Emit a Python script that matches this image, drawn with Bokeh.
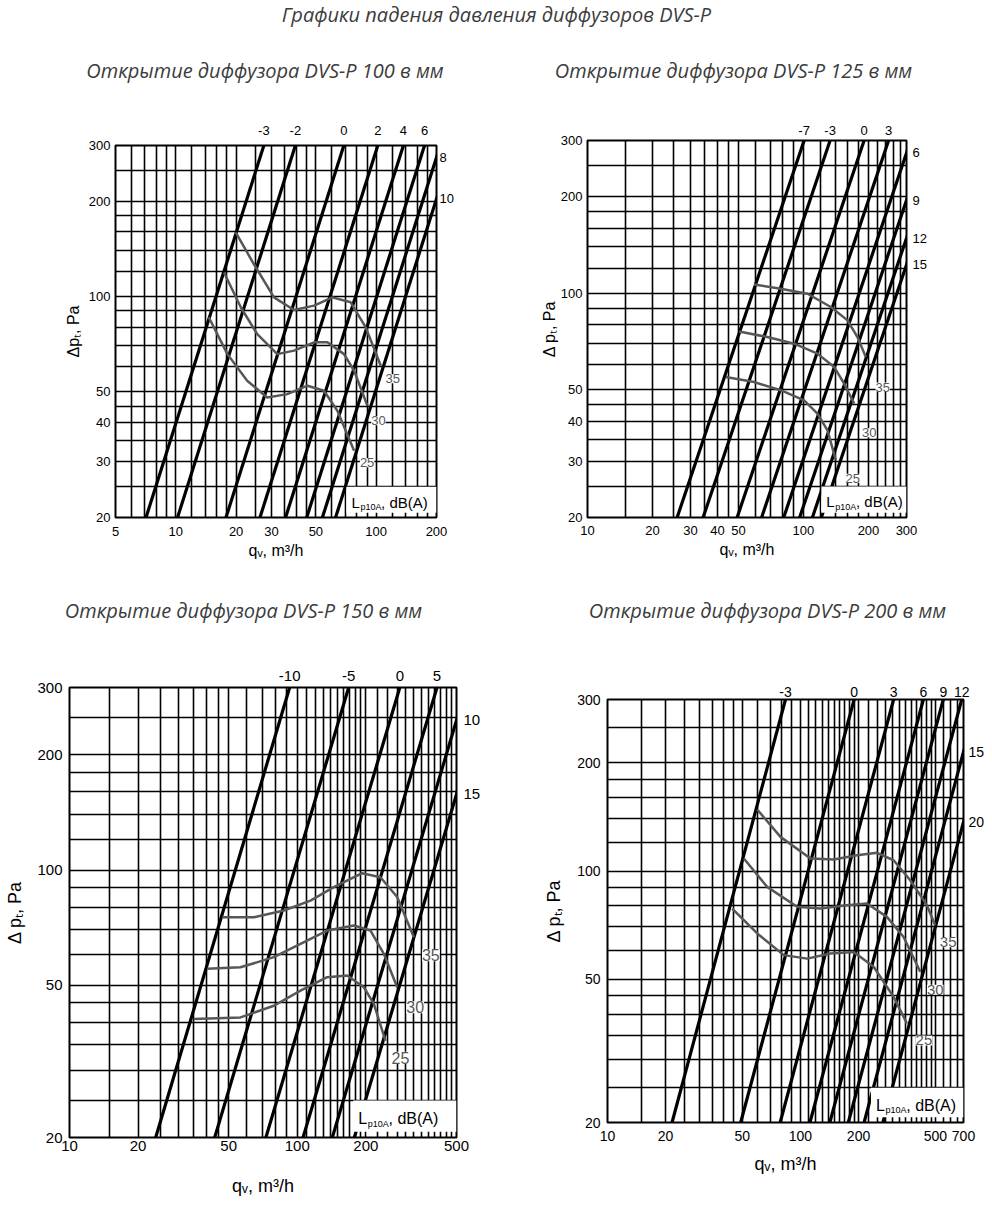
import math
from bokeh.plotting import figure
from bokeh.models import Label, FixedTicker, Range1d, PrintfTickFormatter, LogAxis, Spacer
from bokeh.layouts import column, row
from bokeh.embed import file_html
from bokeh.resources import INLINE

# ---------------- data ----------------
MAIN_TITLE = "Графики падения давления диффузоров DVS-P"
Y_RANGE = (20, 300)
Y_GRID = [20, 25, 30, 35, 40, 45, 50, 60, 70, 80, 90, 100, 120, 140, 160, 180, 200, 250, 300]
BOX_TEXT = ["L", "p10A", ", dB(A)"]

# DVS-P 100
P1_TITLE = "Открытие диффузора DVS-P 100 в мм"
P1_X_RANGE = (5, 200)
P1_X_TICKS = [5, 10, 20, 30, 50, 100, 200]
P1_Y_TICKS = [20, 30, 40, 50, 100, 200, 300]
P1_X_GRID = [5, 6, 7, 8, 9, 10, 12, 14, 16, 18, 20, 25, 30, 35, 40, 45, 50, 60, 70, 80, 90,
             100, 120, 140, 160, 180, 200]
P1_OPENINGS = ["-3", "-2", "0", "2", "4", "6", "8", "10"]
P1_Q_AT_20PA = [7.1, 10.2, 17.8, 26.3, 35.3, 45.0, 53.9, 62.7]
P1_LEVELS = ["35", "30", "25"]
P1_Q35 = [19.9, 24.5, 30.9, 38.9, 49.0, 60.4, 74.6, 88.7, 105.4]
P1_P35 = [159.5, 126.6, 99.3, 90.6, 93.5, 99.3, 95.8, 79.8, 60.4]
P1_Q30 = [17.4, 21.1, 25.5, 32.1, 38.9, 49.0, 57.1, 69.1, 77.6, 90.4]
P1_P30 = [119.0, 92.4, 76.0, 65.7, 67.4, 71.6, 71.6, 65.7, 58.2, 45.1]
P1_Q25 = [14.6, 18.1, 22.7, 28.6, 36.0, 45.4, 54.9, 64.0, 77.6]
P1_P25 = [85.9, 65.7, 54.1, 47.9, 49.1, 52.2, 50.3, 43.5, 32.5]
P1_BOX_Q = (71, 200)

# DVS-P 125
P2_TITLE = "Открытие диффузора DVS-P 125 в мм"
P2_X_RANGE = (10, 300)
P2_X_TICKS = [10, 20, 30, 40, 50, 100, 200, 300]
P2_Y_TICKS = [20, 30, 40, 50, 100, 200, 300]
P2_X_GRID = [10, 15, 20, 25, 30, 35, 40, 45, 50, 60, 70, 80, 90, 100, 120, 140, 160, 180,
             200, 220, 240, 260, 280, 300]
P2_OPENINGS = ["-7", "-3", "0", "3", "6", "9", "12", "15"]
P2_Q_AT_20PA = [26.0, 34.3, 49.3, 64.0, 81.0, 96.0, 110.0, 121.0]
P2_LEVELS = ["35", "30", "25"]
P2_Q35 = [59.1, 78.5, 104.4, 133.9, 160.0, 177.8, 194.4]
P2_P35 = [106.7, 103.4, 99.8, 90.7, 82.4, 73.1, 63.3]
P2_Q30 = [50.4, 68.1, 90.6, 116.1, 138.7, 154.3, 171.7]
P2_P30 = [76.1, 73.1, 69.7, 64.9, 59.0, 52.3, 45.3]
P2_Q25 = [43.7, 59.1, 78.5, 100.7, 116.1, 129.2, 141.2]
P2_P25 = [54.9, 52.9, 49.9, 46.4, 42.2, 37.4, 30.2]
P2_BOX_Q = (121, 300)

# DVS-P 150
P3_TITLE = "Открытие диффузора DVS-P 150 в мм"
P3_X_RANGE = (10, 500)
P3_X_TICKS = [10, 20, 50, 100, 200, 500]
P3_Y_TICKS = [20, 50, 100, 200, 300]
P3_X_GRID = [10, 15, 20, 25, 30, 35, 40, 45, 50, 60, 70, 80, 90, 100, 110, 120, 130, 140,
             150, 160, 170, 180, 190, 200, 225, 250, 275, 300, 325, 350, 375, 400, 425, 450,
             475, 500]
P3_OPENINGS = ["-10", "-5", "0", "5", "10", "15"]
P3_Q_AT_20PA = [23.9, 43.4, 72.8, 106.0, 142.5, 178.0]
P3_LEVELS = ["35", "30", "25"]
P3_Q35 = [46.8, 64.5, 87.3, 114.3, 144.7, 192.7, 231.8, 274.5, 324.9]
P3_P35 = [75.3, 75.3, 78.4, 83.2, 90.2, 98.1, 95.8, 85.0, 66.7]
P3_Q30 = [40.2, 56.3, 78.9, 103.3, 135.3, 177.1, 209.6, 239.9, 274.5]
P3_P30 = [55.2, 55.7, 59.2, 64.1, 69.5, 71.6, 69.5, 60.4, 49.4]
P3_Q25 = [35.1, 56.3, 78.9, 103.3, 135.3, 165.6, 196.0, 216.8, 243.9]
P3_P25 = [40.8, 41.2, 44.2, 48.4, 52.5, 53.0, 49.4, 44.7, 35.8]
P3_BOX_Q = (176, 500)

# DVS-P 200
P4_TITLE = "Открытие диффузора DVS-P 200 в мм"
P4_X_RANGE = (10, 700)
P4_X_TICKS = [10, 20, 50, 100, 200, 500, 700]
P4_Y_TICKS = [20, 50, 100, 200, 300]
P4_X_GRID = [10, 15, 20, 25, 30, 35, 40, 45, 50, 60, 70, 80, 90, 100, 110, 120, 130, 140,
             150, 160, 170, 180, 190, 200, 225, 250, 275, 300, 325, 350, 375, 400, 425, 450,
             475, 500, 550, 600, 650, 700]
P4_OPENINGS = ["-3", "0", "3", "6", "9", "12", "15", "20"]
P4_Q_AT_20PA = [21.6, 49.0, 78.5, 112.0, 142.0, 177.0, 213.7, 267.5]
P4_LEVELS = ["35", "30", "25"]
P4_Q35 = [59.7, 78.8, 112.7, 148.8, 196.5, 249.2, 304.0, 370.8, 452.2, 499.3]
P4_P35 = [148.3, 124.5, 108.4, 107.7, 110.7, 112.4, 107.2, 94.3, 80.4, 70.7]
P4_Q30 = [50.9, 67.2, 96.1, 126.9, 174.4, 221.3, 280.7, 342.4, 417.7]
P4_P30 = [108.4, 90.4, 79.6, 78.7, 80.4, 81.3, 74.6, 65.6, 52.5]
P4_Q25 = [44.3, 59.7, 82.0, 108.3, 143.0, 188.8, 239.5, 304.0, 356.4]
P4_P25 = [78.7, 67.1, 58.4, 57.1, 59.0, 59.6, 54.2, 44.7, 37.7]
P4_BOX_Q = (232, 700)

# ---------------- style / layout ----------------
FONT = "Liberation Sans"
TITLE_FONT = "Open Sans"
TITLE_COLOR = "#3c3c3c"
CURVE_COLOR = "#575757"

LAYOUTS = [
    dict(w=496, h=490, bl=115, br=60, bt=50, bb=68, tick_fs=13, axis_fs=16, open_fs=13,
         lvl_fs=13, box_fs=15, top_st=11, right_st=3, xts=9, yts=5, xls=3, yls=4,
         ylabel="Δpₜ, Pa", lvl_off=[(12, 13), (11, 15), (13, 12)]),
    dict(w=496, h=495, bl=91, br=86, bt=50, bb=68, tick_fs=13, axis_fs=16, open_fs=13,
         lvl_fs=13, box_fs=15, top_st=6, right_st=6, xts=8, yts=5, xls=3, yls=0,
         ylabel="Δ pₜ, Pa", lvl_off=[(17, 30), (15, 29), (17, 18)]),
    dict(w=496, h=567, bl=69, br=40, bt=47, bb=70, tick_fs=15, axis_fs=18, open_fs=15,
         lvl_fs=16, box_fs=16, top_st=7, right_st=7, xts=3, yts=7, xls=22, yls=9,
         ylabel="Δ pₜ, Pa", lvl_off=[(17, 18), (18, 20), (15, 17)]),
    dict(w=496, h=540, bl=111, br=29, bt=47, bb=70, tick_fs=14, axis_fs=18, open_fs=14,
         lvl_fs=15, box_fs=16, top_st=3, right_st=5, xts=8, yts=7, xls=10, yls=10,
         ylabel="Δ pₜ, Pa", lvl_off=[(13, 17), (15, 18), (17, 17)]),
]


def style_axis(ax, lay, label_fs):
    ax.axis_line_color = None
    ax.major_tick_line_color = None
    ax.minor_tick_line_color = None
    ax.major_tick_out = 0
    ax.major_tick_in = 0
    ax.minor_tick_out = 0
    ax.minor_tick_in = 0
    ax.major_label_text_font = FONT
    ax.major_label_text_font_size = f"{label_fs}px"
    ax.major_label_text_color = "black"
    ax.axis_label_text_font = FONT
    ax.axis_label_text_font_size = f"{lay['axis_fs']}px"
    ax.axis_label_text_font_style = "normal"
    ax.axis_label_text_color = "black"


def build_panel(xr, xticks, yticks, xgrid, openings, q20, levels, curves_q, curves_p,
                box_q, lay):
    p = figure(width=lay["w"], height=lay["h"], x_axis_type="log", y_axis_type="log",
               x_range=Range1d(*xr), y_range=Range1d(*Y_RANGE),
               min_border_left=lay["bl"], min_border_right=lay["br"],
               min_border_top=lay["bt"], min_border_bottom=lay["bb"],
               toolbar_location=None, output_backend="svg")
    p.background_fill_color = "white"
    p.border_fill_color = "white"
    p.outline_line_color = "black"
    p.outline_line_width = 2
    p.outline_line_alpha = 1

    p.xgrid.ticker = FixedTicker(ticks=xgrid)
    p.ygrid.ticker = FixedTicker(ticks=Y_GRID)
    for g in (p.xgrid, p.ygrid):
        g.grid_line_color = "black"
        g.grid_line_width = 1.6
        g.grid_line_alpha = 1.0

    p.xaxis.ticker = FixedTicker(ticks=xticks)
    p.yaxis.ticker = FixedTicker(ticks=yticks)
    for ax in (p.xaxis, p.yaxis):
        ax.formatter = PrintfTickFormatter(format="%d")
        style_axis(ax, lay, lay["tick_fs"])
    p.xaxis.major_label_standoff = lay["xts"]
    p.yaxis.major_label_standoff = lay["yts"]
    p.xaxis.axis_label_standoff = lay["xls"]
    p.yaxis.axis_label_standoff = lay["yls"]
    p.xaxis.axis_label = "qᵥ, m³/h"
    p.yaxis.axis_label = lay["ylabel"]

    # opening lines: p ~ q^2 through (q20, 20 Pa)
    k = math.sqrt(Y_RANGE[1] / Y_RANGE[0])
    p.segment(x0=q20, y0=[Y_RANGE[0]] * len(q20), x1=[q * k for q in q20],
              y1=[Y_RANGE[1]] * len(q20), line_color="black", line_width=3.2)

    # opening labels: on a top axis (lines leaving at 300 Pa) or right axis
    top_ticks, top_names, right_ticks, right_names = [], {}, [], {}
    for name, q in zip(openings, q20):
        qt = round(q * k, 3)
        if qt <= xr[1]:
            top_ticks.append(qt)
            top_names[qt] = name
        else:
            pe = round(Y_RANGE[0] * (xr[1] / q) ** 2, 3)
            right_ticks.append(pe)
            right_names[pe] = name
    top_ax = LogAxis(ticker=FixedTicker(ticks=top_ticks), major_label_overrides=top_names)
    style_axis(top_ax, lay, lay["open_fs"])
    top_ax.major_label_standoff = lay["top_st"]
    p.add_layout(top_ax, "above")
    if right_ticks:
        r_ax = LogAxis(ticker=FixedTicker(ticks=right_ticks), major_label_overrides=right_names)
        style_axis(r_ax, lay, lay["open_fs"])
        r_ax.major_label_standoff = lay["right_st"]
        p.add_layout(r_ax, "right")

    # sound level curves
    p.multi_line(xs=curves_q, ys=curves_p, line_color=CURVE_COLOR, line_width=2.5)

    # white legend box
    p.quad(left=[box_q[0]], right=[box_q[1]], bottom=[Y_RANGE[0] * 1.035], top=[25],
           fill_color="white", line_color=None)
    ymid = math.sqrt(Y_RANGE[0] * 25)
    fs = lay["box_fs"]
    sub_fs = int(fs * 0.62)
    p.add_layout(Label(x=box_q[0], y=ymid, x_offset=5, text=BOX_TEXT[0], text_font=FONT,
                       text_font_size=f"{fs}px", text_baseline="middle", text_color="black"))
    p.add_layout(Label(x=box_q[0], y=ymid, x_offset=5 + 0.6 * fs, y_offset=-5,
                       text=BOX_TEXT[1], text_font=FONT, text_font_size=f"{sub_fs}px",
                       text_baseline="middle", text_color="black"))
    p.add_layout(Label(x=box_q[0], y=ymid, x_offset=5 + 0.6 * fs + 2.3 * sub_fs,
                       text=BOX_TEXT[2], text_font=FONT, text_font_size=f"{fs}px",
                       text_baseline="middle", text_color="black"))

    # level labels
    for name, xs, ys, (dx, dy) in zip(levels, curves_q, curves_p, lay["lvl_off"]):
        p.add_layout(Label(x=xs[-1], y=ys[-1], x_offset=dx, y_offset=-dy, text=name,
                           text_font=FONT, text_font_size=f"{lay['lvl_fs']}px",
                           text_color=CURVE_COLOR, text_align="center",
                           text_baseline="middle", background_fill_color="white"))
    return p


def text_strip(height, items):
    s = figure(width=992, height=height, x_range=Range1d(0, 992), y_range=Range1d(height, 0),
               min_border=0, x_axis_location=None, y_axis_location=None,
               toolbar_location=None, output_backend="svg")
    s.outline_line_color = None
    s.grid.visible = False
    s.background_fill_color = "white"
    s.border_fill_color = "white"
    for txt, cx, cy in items:
        s.add_layout(Label(x=cx, y=cy, text=txt, text_font=TITLE_FONT, text_font_size="20px",
                           text_font_style="italic", text_color=TITLE_COLOR,
                           text_align="center", text_baseline="middle"))
    return s


p1 = build_panel(P1_X_RANGE, P1_X_TICKS, P1_Y_TICKS, P1_X_GRID, P1_OPENINGS,
                 P1_Q_AT_20PA, P1_LEVELS, [P1_Q35, P1_Q30, P1_Q25], [P1_P35, P1_P30, P1_P25],
                 P1_BOX_Q, LAYOUTS[0])
p2 = build_panel(P2_X_RANGE, P2_X_TICKS, P2_Y_TICKS, P2_X_GRID, P2_OPENINGS,
                 P2_Q_AT_20PA, P2_LEVELS, [P2_Q35, P2_Q30, P2_Q25], [P2_P35, P2_P30, P2_P25],
                 P2_BOX_Q, LAYOUTS[1])
p3 = build_panel(P3_X_RANGE, P3_X_TICKS, P3_Y_TICKS, P3_X_GRID, P3_OPENINGS,
                 P3_Q_AT_20PA, P3_LEVELS, [P3_Q35, P3_Q30, P3_Q25], [P3_P35, P3_P30, P3_P25],
                 P3_BOX_Q, LAYOUTS[2])
p4 = build_panel(P4_X_RANGE, P4_X_TICKS, P4_Y_TICKS, P4_X_GRID, P4_OPENINGS,
                 P4_Q_AT_20PA, P4_LEVELS, [P4_Q35, P4_Q30, P4_Q25], [P4_P35, P4_P30, P4_P25],
                 P4_BOX_Q, LAYOUTS[3])

strip_a = text_strip(90, [(MAIN_TITLE, 496, 14), (P1_TITLE, 264.5, 70), (P2_TITLE, 733, 70)])
strip_b = text_strip(55, [(P3_TITLE, 243, 25), (P4_TITLE, 767, 25)])

layout = column(
    strip_a,
    row(column(Spacer(width=496, height=5), p1), column(p2)),
    strip_b,
    row(column(p3), column(Spacer(width=496, height=12), p4)),
)
open("out.html", "w").write(file_html(layout, INLINE))
